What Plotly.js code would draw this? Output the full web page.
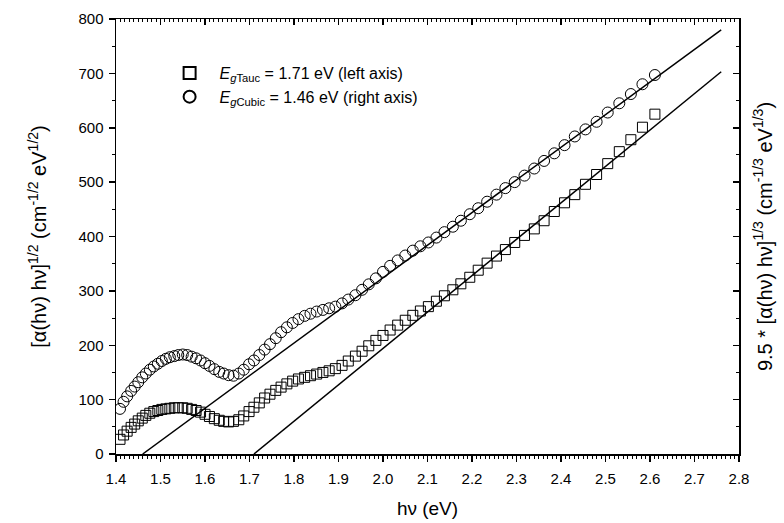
<!DOCTYPE html>
<html>
<head>
<meta charset="utf-8">
<script src="https://cdn.plot.ly/plotly-3.0.1.min.js"></script>
<style>html,body{margin:0;padding:0;background:#fff;}#chart{width:784px;height:523px;}</style>
</head>
<body>
<div id="chart"></div>
<script>
// photon energy hν (eV)
const hv = [1.409,1.417,1.425,1.434,1.442,1.450,1.459,1.467,1.476,1.485,1.494,1.503,1.512,1.521,1.531,1.540,1.550,1.560,1.570,1.580,1.590,1.600,1.610,1.621,1.632,1.642,1.653,1.664,1.676,1.687,1.699,1.710,1.722,1.734,1.746,1.759,1.771,1.784,1.797,1.810,1.824,1.837,1.851,1.865,1.879,1.893,1.908,1.922,1.938,1.953,1.968,1.984,2.000,2.016,2.033,2.050,2.067,2.084,2.102,2.120,2.138,2.157,2.175,2.195,2.214,2.234,2.255,2.275,2.296,2.318,2.340,2.362,2.385,2.408,2.431,2.455,2.480,2.505,2.531,2.557,2.583,2.611];
// Tauc: [α(hν) hν]^1/2  (left axis)
const tauc = [27,35,42,49,55,61,66,71,75,78,80,82,83,84,85,85,85,84,82,80,77,73,69,65,62,60,59,60,63,70,78,86,94,103,110,117,123,129,134,138,141,144,147,150,153,157,163,171,180,189,199,209,218,228,237,246,255,263,271,281,291,302,313,325,338,351,364,376,389,402,414,429,446,462,477,496,514,534,556,578,601,625];
// Cubic: 9.5*[α(hν) hν]^1/3 (right axis)
const cubic = [83,96,106,116,124,132,141,148,155,161,166,171,175,178,180,182,183,182,179,176,172,167,162,156,151,148,145,144,148,155,165,172,182,192,202,213,224,233,241,248,254,258,262,265,268,271,277,284,292,302,312,323,335,346,356,365,374,382,389,398,408,418,429,441,452,464,477,489,500,512,525,539,553,568,584,597,611,628,645,662,680,697];
// linear fits
const fitTaucX = [1.71, 2.76];
const fitTaucY = [0, 703];
const fitCubicX = [1.46, 2.76];
const fitCubicY = [0, 780];

const xTicks = ['1.4','1.5','1.6','1.7','1.8','1.9','2.0','2.1','2.2','2.3','2.4','2.5','2.6','2.7','2.8'];
const yTicks = ['0','100','200','300','400','500','600','700','800'];

const FONT = 'Liberation Sans, Arial, sans-serif';

const traces = [
  {x: fitTaucX, y: fitTaucY, mode: 'lines', line: {color: '#000', width: 1.5}, showlegend: false, hoverinfo: 'skip'},
  {x: fitCubicX, y: fitCubicY, mode: 'lines', line: {color: '#000', width: 1.5}, showlegend: false, hoverinfo: 'skip', yaxis: 'y2'},
  {x: hv, y: tauc, mode: 'markers', name: '<i>E</i><sub><i>g</i>Tauc</sub> = 1.71 eV (left axis)',
   marker: {symbol: 'square-open', size: 10, color: '#000', line: {width: 1, color: '#000'}}},
  {x: hv, y: cubic, mode: 'markers', name: '<i>E</i><sub><i>g</i>Cubic</sub> = 1.46 eV (right axis)', yaxis: 'y2',
   marker: {symbol: 'circle-open', size: 11, color: '#000', line: {width: 1, color: '#000'}}}
];

const axBase = {showgrid: false, zeroline: false, showline: true, linecolor: '#000', linewidth: 1.5,
  tickcolor: '#000', tickwidth: 1.5, ticklen: 6, tickfont: {size: 15}};

const layout = {
  width: 784, height: 523,
  margin: {l: 116, r: 45, t: 19, b: 69},
  paper_bgcolor: '#fff', plot_bgcolor: '#fff',
  font: {family: FONT, color: '#000', size: 15},
  showlegend: true,
  legend: {x: 0.07, y: 0.915, xanchor: 'left', yanchor: 'top', bgcolor: 'rgba(0,0,0,0)',
    font: {family: FONT, size: 16, color: '#000'}, tracegroupgap: 0, itemwidth: 50, itemsizing: 'constant'},
  xaxis: Object.assign({}, axBase, {range: [1.4, 2.8], tickmode: 'array',
    tickvals: xTicks.map(Number), ticktext: xTicks, ticks: 'outside', ticklabelstandoff: 4,
    minor: {dtick: 0.01, ticks: 'outside', ticklen: 3, tickwidth: 1, tickcolor: '#000'},
    title: {text: 'hν (eV)', font: {size: 19}, standoff: 16}}),
  xaxis2: Object.assign({}, axBase, {range: [1.4, 2.8], overlaying: 'x', side: 'top', anchor: 'y',
    tickmode: 'array', tickvals: xTicks.map(Number), ticks: 'inside', showticklabels: false,
    minor: {dtick: 0.01, ticks: 'inside', ticklen: 3, tickwidth: 1, tickcolor: '#000'}}),
  yaxis: Object.assign({}, axBase, {range: [0, 800], tickmode: 'array',
    tickvals: yTicks.map(Number), ticktext: yTicks, ticks: 'outside', ticklabelstandoff: 2,
    minor: {dtick: 50, ticks: 'outside', ticklen: 3, tickwidth: 1, tickcolor: '#000'},
    title: {text: '[α(hν) hν]<sup>1/2</sup> (cm<sup>-1/2</sup> eV<sup>1/2</sup>)', font: {size: 20}, standoff: 26}}),
  yaxis2: Object.assign({}, axBase, {range: [0, 800], overlaying: 'y', side: 'right', anchor: 'x',
    tickmode: 'array', tickvals: yTicks.map(Number), ticks: 'inside', showticklabels: false,
    minor: {dtick: 50, ticks: 'inside', ticklen: 3, tickwidth: 1, tickcolor: '#000'},
    title: {text: '9.5 * [α(hν) hν]<sup>1/3</sup> (cm<sup>-1/3</sup> eV<sup>1/3</sup>)', font: {size: 20}, standoff: 18}})
};

// dummy trace to activate top axis
traces.push({x: [1.4], y: [0], xaxis: 'x2', mode: 'markers', marker: {opacity: 0}, showlegend: false, hoverinfo: 'skip'});

Plotly.newPlot('chart', traces, layout, {staticPlot: true, displayModeBar: false});
</script>
</body>
</html>
